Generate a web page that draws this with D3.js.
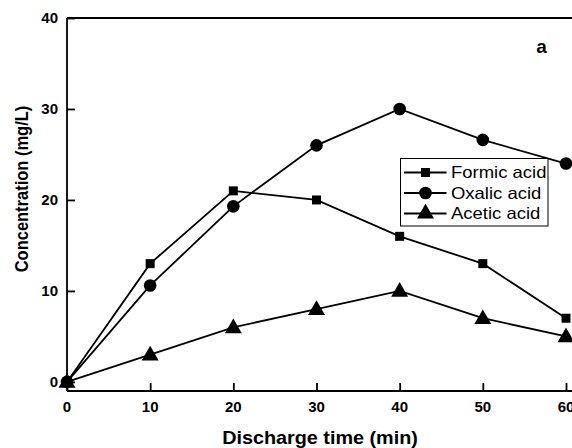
<!DOCTYPE html>
<html>
<head>
<meta charset="utf-8">
<script src="https://cdn.jsdelivr.net/npm/d3@7"></script>
<style>
  html, body { margin: 0; padding: 0; background: #fff; }
  svg { display: block; font-family: "Liberation Sans", Arial, sans-serif; }
</style>
</head>
<body>
<div id="chart"></div>
<script>
// data
const times = [0, 10, 20, 30, 40, 50, 60];
const formic = [0, 13, 21, 20, 16, 13, 7];
const oxalic = [0, 10.6, 19.3, 26, 30, 26.6, 24];
const acetic = [0, 3, 6, 8, 10, 7, 5];
const seriesNames = ["Formic acid", "Oxalic acid", "Acetic acid"];
const seriesMarkers = ["square", "circle", "triangle"];
const xTicks = [0, 10, 20, 30, 40, 50, 60];
const yTicks = [0, 10, 20, 30, 40];

const width = 572, height = 448;
const svg = d3.select("#chart").append("svg")
  .attr("width", width).attr("height", height);

// plot frame (right edge runs off the picture)
const plotLeft = 67, plotTop = 18, plotBottom = 391;
const x = d3.scaleLinear().domain([0, 60]).range([67, 566]);
const y = d3.scaleLinear().domain([-1, 40]).range([plotBottom, plotTop]);

// top border
svg.append("line")
  .attr("x1", plotLeft).attr("x2", width + 5)
  .attr("y1", plotTop).attr("y2", plotTop)
  .attr("stroke", "#000").attr("stroke-width", 1.8);

// axes, ticks pointing inward
const xAxis = svg.append("g")
  .attr("transform", `translate(0,${plotBottom})`)
  .call(d3.axisTop(x).tickValues(xTicks).tickSize(8).tickFormat(""));
xAxis.select(".domain").attr("d", `M${plotLeft},0H${width + 5}`);

const yAxis = svg.append("g")
  .attr("transform", `translate(${plotLeft},0)`)
  .call(d3.axisRight(y).tickValues(yTicks).tickSize(8).tickFormat(""));
yAxis.select(".domain").attr("d", `M0,${plotTop}V${plotBottom}`);

svg.selectAll(".domain, .tick line")
  .attr("stroke", "#000").attr("stroke-width", 1.8);

// tick labels
svg.selectAll(".xlab").data(xTicks).enter().append("text")
  .attr("x", d => x(d)).attr("y", plotBottom + 21)
  .attr("text-anchor", "middle")
  .attr("font-size", 15).attr("font-weight", "bold")
  .text(d => d);

svg.selectAll(".ylab").data(yTicks).enter().append("text")
  .attr("x", plotLeft - 9).attr("y", d => y(d) + 5)
  .attr("text-anchor", "end")
  .attr("font-size", 15).attr("font-weight", "bold")
  .text(d => d);

// axis titles
svg.append("text")
  .attr("transform", "translate(320,444) scale(1.1,1)")
  .attr("text-anchor", "middle")
  .attr("font-size", 18).attr("font-weight", "bold")
  .text("Discharge time (min)");

svg.append("text")
  .attr("transform", "translate(28,189) rotate(-90) scale(1,1.12)")
  .attr("text-anchor", "middle")
  .attr("font-size", 16.5).attr("font-weight", "bold")
  .text("Concentration (mg/L)");

svg.append("text")
  .attr("x", 541.5).attr("y", 52.5)
  .attr("text-anchor", "middle")
  .attr("font-size", 19).attr("font-weight", "bold")
  .text("a");

// series
const series = [formic, oxalic, acetic].map((vals, i) => ({
  name: seriesNames[i],
  marker: seriesMarkers[i],
  points: times.map((t, j) => ({ t, v: vals[j] }))
}));

const line = d3.line().x(d => x(d.t)).y(d => y(d.v));

const symbolFor = {
  square: d3.symbol().type(d3.symbolSquare).size(81),
  circle: d3.symbol().type(d3.symbolCircle).size(125),
  triangle: d3.symbol().type(d3.symbolTriangle).size(125)
};

const g = svg.selectAll(".series").data(series).enter().append("g");

g.append("path")
  .attr("d", d => line(d.points))
  .attr("fill", "none").attr("stroke", "#000").attr("stroke-width", 1.8);

g.each(function(s) {
  d3.select(this).selectAll(".mk").data(s.points).enter().append("path")
    .attr("transform", d => `translate(${x(d.t)},${y(d.v) + (s.marker === "triangle" ? 1 : 0)})`)
    .attr("d", symbolFor[s.marker]())
    .attr("fill", "#000");
});

// legend
const legend = svg.append("g").attr("transform", "translate(400.5,158.5)");
legend.append("rect")
  .attr("width", 147.5).attr("height", 67.5)
  .attr("fill", "#fff").attr("stroke", "#000").attr("stroke-width", 1);

const rows = legend.selectAll(".row").data(series).enter().append("g")
  .attr("transform", (d, i) => `translate(0,${14 + i * 20.5})`);
rows.append("line")
  .attr("x1", 3.5).attr("x2", 46)
  .attr("stroke", "#000").attr("stroke-width", 1.8);
rows.append("path")
  .attr("transform", "translate(25,0)")
  .attr("d", d => symbolFor[d.marker]())
  .attr("fill", "#000");
rows.append("text")
  .attr("transform", "translate(50.5,5.8) scale(1.12,1)")
  .attr("font-size", 16.5)
  .text(d => d.name);
</script>
</body>
</html>
